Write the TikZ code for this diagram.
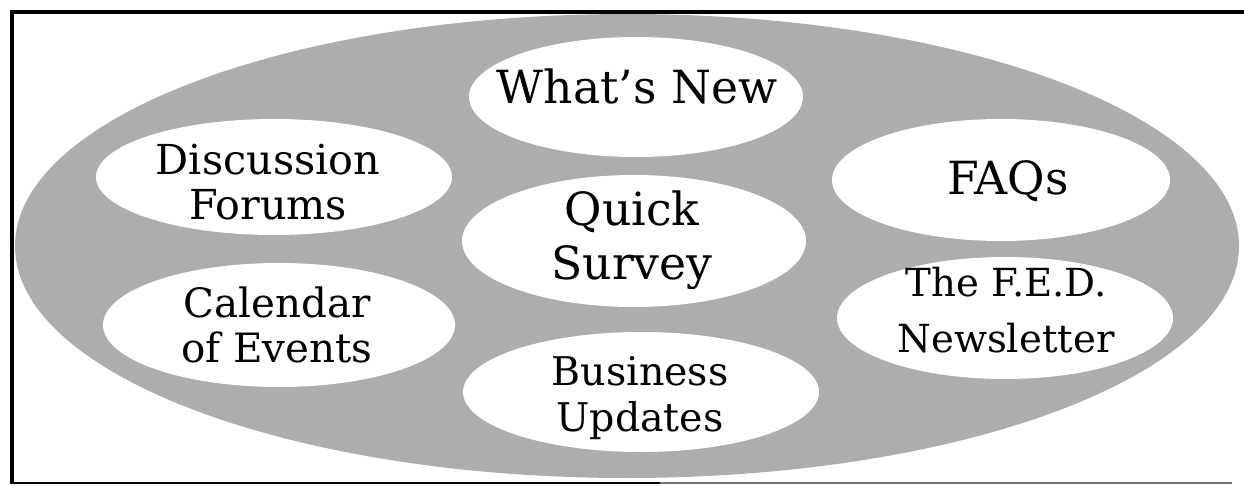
\documentclass[tikz,border=0pt]{standalone}
\usepackage{fontspec}
\setmainfont{DejaVu Serif}
\tikzset{
	x=0.02cm,
	y=-0.02cm,
	frame/.style={line width=2pt},
	thin frame/.style={line width=1.1pt},
	backdrop/.style={fill=black!32},
	blob/.style={fill=white},
	topic/.style={
		align=center,
		inner sep=0pt,
		font=\fontsize{23}{26}\selectfont
	},
	big topic/.style={
		topic,
		font=\fontsize{26}{31}\selectfont
	}
}
\begin{document}
\begin{tikzpicture}
	\useasboundingbox (0,0) rectangle (1244,486);

	% shaded backdrop and the white blobs
	\fill [backdrop] (627,246) ellipse [x radius=612, y radius=232];
	\fill [blob] (636,97)  ellipse [x radius=167, y radius=60];
	\fill [blob] (274,177) ellipse [x radius=178, y radius=58];
	\fill [blob] (1001,180) ellipse [x radius=169, y radius=61];
	\fill [blob] (634,241) ellipse [x radius=172, y radius=66];
	\fill [blob] (279,325) ellipse [x radius=176, y radius=62];
	\fill [blob] (641,392) ellipse [x radius=178, y radius=60];
	\fill [blob] (1005,318) ellipse [x radius=168, y radius=61];

	% frame
	\draw [frame] (1244,12) -- (12,12) -- (12,484);
	\draw [thin frame] (12,483) -- (660,483);
	\draw [thin frame,black!55] (660,483) -- (1232,483);

	\draw
		node [big topic]                                  (whatsnew)   at (637,86)   {What’s New}
		node [topic,font=\fontsize{23.5}{26}\selectfont] (forums)     at (268,182)  {Discussion\\Forums}
		node [big topic]                                  (faqs)       at (1008,181) {FAQs}
		node [big topic]                                  (survey)     at (632,240)  {Quick\\Survey}
		node [topic]                                      (calendar)   at (277,325)  {Calendar\\of Events}
		node [topic,font=\fontsize{22.5}{26}\selectfont] (business)   at (640,398)  {Business\\Updates}
		node [topic,font=\fontsize{22}{32}\selectfont]   (newsletter) at (1006,310) {The F.E.D.\\Newsletter}
	;
\end{tikzpicture}
\end{document}
